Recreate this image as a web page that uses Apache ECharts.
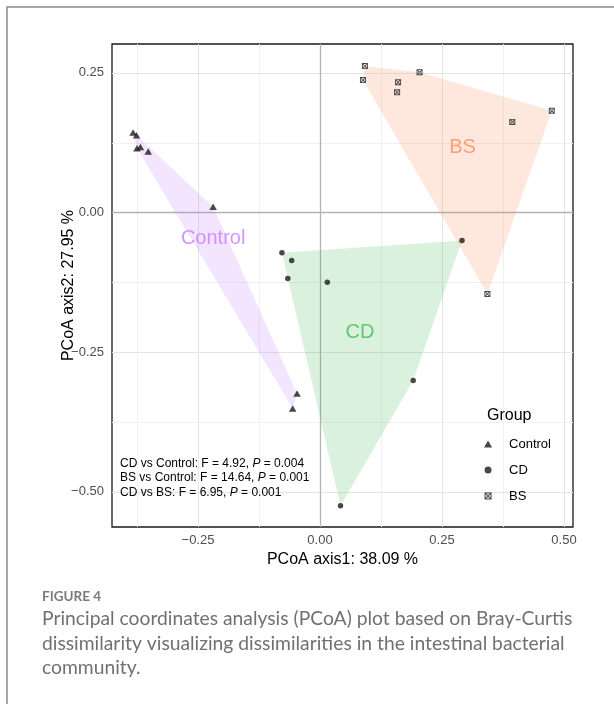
<!DOCTYPE html>
<html>
<head>
<meta charset="utf-8">
<title>PCoA plot</title>
<script src="https://cdn.jsdelivr.net/npm/echarts@6/dist/echarts.min.js"></script>
<style>
  html, body { margin: 0; padding: 0; background: #ffffff; }
  #chart { width: 614px; height: 704px; }
</style>
</head>
<body>
<div id="chart"></div>
<script>
// sample coordinates (PCoA axis1, axis2)
const controlX = [-0.383, -0.376, -0.375, -0.368, -0.352, -0.219, -0.047, -0.056]
const controlY = [0.143, 0.138, 0.115, 0.117, 0.109, 0.010, -0.324, -0.351]
const cdX = [-0.078, -0.058, -0.066, 0.015, 0.291, 0.191, 0.042]
const cdY = [-0.072, -0.086, -0.118, -0.125, -0.050, -0.301, -0.525]
const bsX = [0.092, 0.088, 0.160, 0.158, 0.204, 0.394, 0.475, 0.343]
const bsY = [0.262, 0.237, 0.233, 0.215, 0.251, 0.162, 0.182, -0.146]

// group names written inside the hulls
const groupNames = ['Control', 'CD', 'BS']
const groupLabelX = [-0.219, 0.082, 0.292]
const groupLabelY = [-0.047, -0.214, 0.116]

// ticks
const xTicks = [-0.25, 0, 0.25, 0.5]
const xMinorTicks = [-0.375, -0.125, 0.125, 0.375]
const yTicks = [-0.5, -0.25, 0, 0.25]
const yMinorTicks = [-0.375, -0.125, 0.125]

// PERMANOVA results
const statLines = [
  ['CD vs Control: F = 4.92, ', ' = 0.004'],
  ['BS vs Control: F = 14.64, ', ' = 0.001'],
  ['CD vs BS: F = 6.95, ', ' = 0.001']
]

const captionLines = [
  'Principal coordinates analysis (PCoA) plot based on Bray-Curtis',
  'dissimilarity visualizing dissimilarities in the intestinal bacterial',
  'community.'
]

const xRange = [-0.4262, 0.5184]
const yRange = [-0.563, 0.3015]

const groupColors = ['#C77CFF', '#45BC55', '#FC8D59']
const pointColor = '#1a1a1a'
const plotFont = '"Liberation Sans", Arial, sans-serif'
const captionFont = 'Lato, "Open Sans", sans-serif'

// filled triangle (ggplot shape 17), path keeps its aspect in the legend too
const triangle = 'path://M0 8.66L5 0L10 8.66Z'
// square with a cross (ggplot shape 7)
const squareCross = 'path://M0 0L10 0L10 10L0 10Z' +
  'M2.56 1.5L5 3.94L7.44 1.5Z' +
  'M8.5 2.56L6.06 5L8.5 7.44Z' +
  'M7.44 8.5L5 6.06L2.56 8.5Z' +
  'M1.5 7.44L3.94 5L1.5 2.56Z'

function zip(xs, ys) {
  return xs.map((x, i) => [x, ys[i]])
}

// convex hull, monotone chain
function convexHull(points) {
  const pts = points.slice().sort((a, b) => a[0] - b[0] || a[1] - b[1])
  const cross = (o, a, b) => (a[0] - o[0]) * (b[1] - o[1]) - (a[1] - o[1]) * (b[0] - o[0])
  const lower = []
  pts.forEach(p => {
    while (lower.length >= 2 && cross(lower[lower.length - 2], lower[lower.length - 1], p) <= 0) lower.pop()
    lower.push(p)
  })
  const upper = []
  pts.slice().reverse().forEach(p => {
    while (upper.length >= 2 && cross(upper[upper.length - 2], upper[upper.length - 1], p) <= 0) upper.pop()
    upper.push(p)
  })
  return lower.slice(0, -1).concat(upper.slice(0, -1))
}

const groups = [zip(controlX, controlY), zip(cdX, cdY), zip(bsX, bsY)]

function hullSeries(points, color, name) {
  const hull = convexHull(points)
  return {
    name: name,
    type: 'custom',
    silent: true,
    z: 3,
    data: hull,
    renderItem: (params, api) => {
      if (params.dataIndex !== 0) return null
      return {
        type: 'polygon',
        shape: { points: hull.map(p => api.coord(p)) },
        style: { fill: color, opacity: 0.2 }
      }
    }
  }
}

// panel grid lines: vertical for x values, horizontal for y values
function gridLineSeries(values, dir, color, width, z) {
  return {
    name: 'grid-' + dir + '-' + color,
    type: 'custom',
    silent: true,
    z: z,
    data: values.map(v => [v]),
    renderItem: (params, api) => {
      const v = api.value(0)
      let p1, p2
      if (dir === 'v') {
        p1 = api.coord([v, yRange[0]])
        p2 = api.coord([v, yRange[1]])
        const x = Math.round(p1[0]) + 0.5
        p1[0] = x
        p2[0] = x
      } else {
        p1 = api.coord([xRange[0], v])
        p2 = api.coord([xRange[1], v])
        const y = Math.round(p1[1]) + 0.5
        p1[1] = y
        p2[1] = y
      }
      return {
        type: 'line',
        shape: { x1: p1[0], y1: p1[1], x2: p2[0], y2: p2[1] },
        style: { stroke: color, lineWidth: width }
      }
    }
  }
}

function tickFormat(v) {
  return (v < 0 ? '\u2212' : '') + Math.abs(v).toFixed(2)
}

const chart = echarts.init(document.getElementById('chart'), null, { renderer: 'canvas' })

const option = {
  backgroundColor: '#ffffff',
  animation: false,
  textStyle: { fontFamily: plotFont },
  grid: {
    left: 112,
    top: 44,
    right: 41,
    bottom: 177,
    show: true,
    borderColor: '#1a1a1a',
    borderWidth: 1.3
  },
  xAxis: {
    type: 'value',
    min: xRange[0],
    max: xRange[1],
    name: 'PCoA axis1: 38.09 %',
    nameLocation: 'middle',
    nameGap: 23,
    nameTextStyle: { fontSize: 16, color: '#000000', fontFamily: plotFont },
    axisLine: { show: false },
    splitLine: { show: false },
    axisTick: {
      show: true,
      length: 4,
      customValues: xTicks,
      lineStyle: { color: '#333333' }
    },
    axisLabel: {
      customValues: xTicks,
      margin: 7,
      fontSize: 13,
      color: '#4d4d4d',
      formatter: tickFormat
    }
  },
  yAxis: {
    type: 'value',
    min: yRange[0],
    max: yRange[1],
    name: 'PCoA axis2: 27.95 %',
    nameLocation: 'middle',
    nameGap: 35,
    nameMoveOverlap: false,
    nameTextStyle: { fontSize: 16, color: '#000000', fontFamily: plotFont },
    axisLine: { show: false },
    splitLine: { show: false },
    axisTick: {
      show: true,
      length: 4,
      customValues: yTicks,
      lineStyle: { color: '#333333' }
    },
    axisLabel: {
      customValues: yTicks,
      margin: 8,
      fontSize: 13,
      color: '#4d4d4d',
      formatter: tickFormat
    }
  },
  legend: {
    data: groupNames,
    orient: 'vertical',
    left: 479,
    top: 432,
    itemWidth: 32,
    itemHeight: 7,
    itemGap: 12,
    selectedMode: false,
    textStyle: { fontSize: 13, color: '#000000', lineHeight: 14, fontFamily: plotFont }
  },
  graphic: [
    // outer figure frame
    {
      type: 'polyline',
      silent: true,
      shape: { points: [[7, 704], [7, 7], [614, 7]] },
      style: { stroke: '#8a8a8a', lineWidth: 1.5, fill: null }
    },
    {
      type: 'text',
      left: 487,
      top: 408,
      z: 100,
      style: { text: 'Group', fontSize: 16, fill: '#000000', fontFamily: plotFont }
    },
    {
      type: 'text',
      left: 120,
      top: 456,
      z: 100,
      style: {
        text: statLines.map(l => l[0] + '{i|P}' + l[1]).join('\n'),
        fontSize: 12,
        lineHeight: 14.5,
        fill: '#000000',
        fontFamily: plotFont,
        rich: {
          i: { fontStyle: 'italic', fontSize: 12, fontFamily: plotFont, fill: '#000000' }
        }
      }
    },
    {
      type: 'text',
      left: 42,
      top: 590,
      style: {
        text: 'FIGURE 4',
        fontSize: 13.5,
        fontWeight: 'bold',
        fill: '#7a7a7a',
        fontFamily: captionFont
      }
    },
    {
      type: 'text',
      left: 42,
      top: 607,
      style: {
        text: captionLines.join('\n'),
        fontSize: 19.3,
        lineHeight: 24.3,
        fill: '#707070',
        fontFamily: captionFont
      }
    }
  ],
  series: [
    gridLineSeries(xMinorTicks, 'v', '#f0f0f0', 1, 0),
    gridLineSeries(yMinorTicks, 'h', '#f0f0f0', 1, 0),
    gridLineSeries(xTicks, 'v', '#e4e4e4', 1, 1),
    gridLineSeries(yTicks, 'h', '#e4e4e4', 1, 1),
    gridLineSeries([0], 'v', '#b3b3b3', 1.3, 2),
    gridLineSeries([0], 'h', '#b3b3b3', 1.3, 2),
    hullSeries(groups[0], groupColors[0], 'Control hull'),
    hullSeries(groups[1], groupColors[1], 'CD hull'),
    hullSeries(groups[2], groupColors[2], 'BS hull'),
    {
      name: 'Control',
      type: 'scatter',
      z: 6,
      symbol: triangle,
      symbolSize: [7.5, 6.5],
      itemStyle: { color: pointColor },
      data: groups[0]
    },
    {
      name: 'CD',
      type: 'scatter',
      z: 6,
      symbol: 'circle',
      symbolSize: 5.5,
      itemStyle: { color: pointColor },
      data: groups[1]
    },
    {
      name: 'BS',
      type: 'scatter',
      z: 6,
      symbol: squareCross,
      symbolSize: 6,
      itemStyle: { color: pointColor },
      data: groups[2]
    },
    {
      name: 'labels',
      type: 'scatter',
      z: 10,
      silent: true,
      symbolSize: 0,
      data: groupNames.map((n, i) => ({
        name: n,
        value: [groupLabelX[i], groupLabelY[i]],
        label: {
          show: true,
          position: 'inside',
          formatter: n,
          fontSize: 20,
          color: groupColors[i],
          fontFamily: plotFont
        }
      }))
    }
  ]
}

chart.setOption(option)
</script>
</body>
</html>
